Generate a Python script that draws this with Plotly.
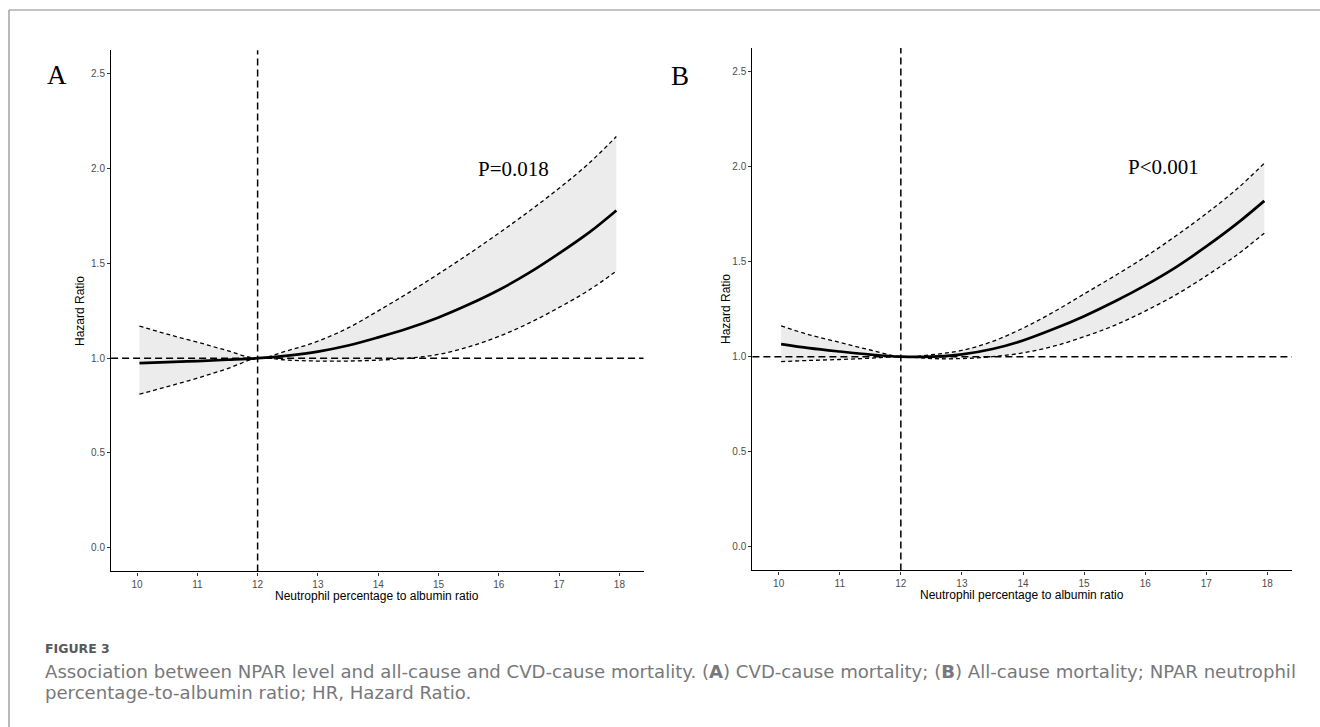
import plotly.graph_objects as go

# ---------------- data ----------------
npar = [10.04, 10.5, 11, 11.5, 12, 12.5, 13, 13.5, 14, 14.5, 15, 15.5, 16, 16.5, 17, 17.5, 17.95]

hr_a = [0.974, 0.979, 0.985, 0.992, 1.0, 1.014, 1.035, 1.067, 1.11, 1.158, 1.215, 1.283, 1.36, 1.45, 1.553, 1.664, 1.78]
lo_a = [0.81, 0.85, 0.895, 0.945, 1.0, 0.99, 0.985, 0.985, 0.99, 1.0, 1.02, 1.06, 1.115, 1.185, 1.268, 1.36, 1.46]
up_a = [1.17, 1.127, 1.085, 1.04, 1.0, 1.04, 1.09, 1.16, 1.25, 1.345, 1.445, 1.55, 1.66, 1.775, 1.897, 2.03, 2.17]

hr_b = [1.066, 1.045, 1.027, 1.011, 1.0, 1.0, 1.012, 1.04, 1.085, 1.145, 1.213, 1.29, 1.375, 1.47, 1.58, 1.70, 1.82]
lo_b = [0.974, 0.98, 0.985, 0.992, 1.0, 0.99, 0.99, 1.0, 1.02, 1.055, 1.105, 1.165, 1.24, 1.325, 1.425, 1.535, 1.65]
up_b = [1.162, 1.115, 1.075, 1.035, 1.0, 1.01, 1.033, 1.08, 1.15, 1.235, 1.33, 1.425, 1.525, 1.635, 1.753, 1.882, 2.018]

x_ticks = [10, 11, 12, 13, 14, 15, 16, 17, 18]
y_ticks = [0.0, 0.5, 1.0, 1.5, 2.0, 2.5]
y_ticklabels = ["0.0", "0.5", "1.0", "1.5", "2.0", "2.5"]
ref_x = 12
ref_y = 1.0
p_labels = ["P=0.018", "P<0.001"]
panel_letters = ["A", "B"]
x_title = "Neutrophil percentage to albumin ratio"
y_title = "Hazard Ratio"
fig_label = "FIGURE 3"
caption_1 = ("Association between NPAR level and all-cause and CVD-cause mortality. "
             "(<b>A</b>) CVD-cause mortality; (<b>B</b>) All-cause mortality; NPAR neutrophil")
caption_2 = "percentage-to-albumin ratio; HR, Hazard Ratio."

W, H = 1320, 727
fig = go.Figure()

SANS = "Liberation Sans, Arial, sans-serif"
SERIF = "Liberation Serif, Times New Roman, serif"
CAP = "DejaVu Sans, Verdana, sans-serif"

panels = [
    dict(hr=hr_a, lo=lo_a, up=up_a, xa="x", ya="y"),
    dict(hr=hr_b, lo=lo_b, up=up_b, xa="x2", ya="y2"),
]

for p in panels:
    fig.add_trace(go.Scatter(x=npar, y=p["up"], xaxis=p["xa"], yaxis=p["ya"], mode="lines",
                             line=dict(color="rgba(0,0,0,0)", width=0, shape="spline"),
                             showlegend=False, hoverinfo="skip"))
    fig.add_trace(go.Scatter(x=npar, y=p["lo"], xaxis=p["xa"], yaxis=p["ya"], mode="lines",
                             line=dict(color="rgba(0,0,0,0)", width=0, shape="spline"),
                             fill="tonexty", fillcolor="#ececec",
                             showlegend=False, hoverinfo="skip"))
    for arr in (p["up"], p["lo"]):
        fig.add_trace(go.Scatter(x=npar, y=arr, xaxis=p["xa"], yaxis=p["ya"], mode="lines",
                                 line=dict(color="black", width=1.3, dash="4px,3px", shape="spline"),
                                 showlegend=False))
    fig.add_trace(go.Scatter(x=npar, y=p["hr"], xaxis=p["xa"], yaxis=p["ya"], mode="lines",
                             line=dict(color="black", width=2.7, shape="spline"),
                             showlegend=False))

axis_common_x = dict(range=[9.57, 18.4], tickvals=x_ticks, showline=True, linecolor="black",
                     linewidth=1.3, ticks="outside", ticklen=3, tickwidth=1, tickcolor="#333333",
                     showgrid=False, zeroline=False,
                     tickfont=dict(family=SANS, size=10, color="#4d4d4d"))
axis_common_y = dict(range=[-0.125, 2.625], tickvals=y_ticks, ticktext=y_ticklabels,
                     showline=True, linecolor="black", linewidth=1.3, ticks="outside", ticklen=3,
                     tickwidth=1, tickcolor="#333333", showgrid=False, zeroline=False,
                     tickfont=dict(family=SANS, size=10, color="#4d4d4d"))

fig.update_layout(
    width=W, height=H,
    margin=dict(l=0, r=0, t=0, b=0),
    paper_bgcolor="white", plot_bgcolor="white",
    showlegend=False,
    xaxis=dict(domain=[0.08417, 0.48750], anchor="y", **axis_common_x),
    yaxis=dict(domain=[0.21403, 0.93081], anchor="x", **axis_common_y),
    xaxis2=dict(domain=[0.57000, 0.97864], anchor="y2", **axis_common_x),
    yaxis2=dict(domain=[0.21541, 0.93411], anchor="x2", **axis_common_y),
)

shapes = []
for xa, ya in (("x", "y"), ("x2", "y2")):
    shapes.append(dict(type="line", xref=xa + " domain", yref=ya, x0=0, x1=1, y0=ref_y, y1=ref_y,
                       line=dict(color="black", width=1.5, dash="7px,4px"), layer="above"))
    shapes.append(dict(type="line", xref=xa, yref=ya + " domain", x0=ref_x, x1=ref_x, y0=0, y1=1,
                       line=dict(color="black", width=1.5, dash="7px,4px"), layer="above"))
shapes.append(dict(type="line", xref="paper", yref="paper", x0=9 / W, x1=1.01, y0=1 - 10 / H, y1=1 - 10 / H,
                   line=dict(color="#8a8a8a", width=1.2)))
shapes.append(dict(type="line", xref="paper", yref="paper", x0=9 / W, x1=9 / W, y0=-0.01, y1=1 - 10 / H,
                   line=dict(color="#8a8a8a", width=1.2)))
fig.update_layout(shapes=shapes)

ann = []
ann.append(dict(x=16.25, y=2.0, xref="x", yref="y", text=p_labels[0], showarrow=False,
                xanchor="center", yanchor="middle",
                font=dict(family=SERIF, size=21, color="black")))
ann.append(dict(x=16.3, y=2.0, xref="x2", yref="y2", text=p_labels[1], showarrow=False,
                xanchor="center", yanchor="middle",
                font=dict(family=SERIF, size=21, color="black")))
ann.append(dict(x=57 / W, y=1 - 75 / H, xref="paper", yref="paper", text=panel_letters[0], showarrow=False,
                xanchor="center", yanchor="middle",
                font=dict(family=SERIF, size=27, color="black")))
ann.append(dict(x=680 / W, y=1 - 76 / H, xref="paper", yref="paper", text=panel_letters[1], showarrow=False,
                xanchor="center", yanchor="middle",
                font=dict(family=SERIF, size=27, color="black")))
for xc, yc in ((377 / W, 1 - 596 / H), (1022 / W, 1 - 595 / H)):
    ann.append(dict(x=xc, y=yc, xref="paper", yref="paper", text=x_title, showarrow=False,
                    xanchor="center", yanchor="middle",
                    font=dict(family=SANS, size=12, color="black")))
for xc, yc in ((80 / W, 1 - 311 / H), (726 / W, 1 - 309 / H)):
    ann.append(dict(x=xc, y=yc, xref="paper", yref="paper", text=y_title, showarrow=False, textangle=-90,
                    xanchor="center", yanchor="middle",
                    font=dict(family=SANS, size=12, color="black")))
ann.append(dict(x=43 / W, y=1 - 648 / H, xref="paper", yref="paper", text=fig_label, showarrow=False,
                xanchor="left", yanchor="middle",
                font=dict(family=CAP, size=12.5, color="#58595b", weight=600)))
ann.append(dict(x=43 / W, y=1 - 671 / H, xref="paper", yref="paper", text=caption_1, showarrow=False,
                xanchor="left", yanchor="middle",
                font=dict(family=CAP, size=18.1, color="#77787b")))
ann.append(dict(x=43 / W, y=1 - 692 / H, xref="paper", yref="paper", text=caption_2, showarrow=False,
                xanchor="left", yanchor="middle",
                font=dict(family=CAP, size=18.1, color="#77787b")))
fig.update_layout(annotations=ann)

fig.write_html("out.html")
